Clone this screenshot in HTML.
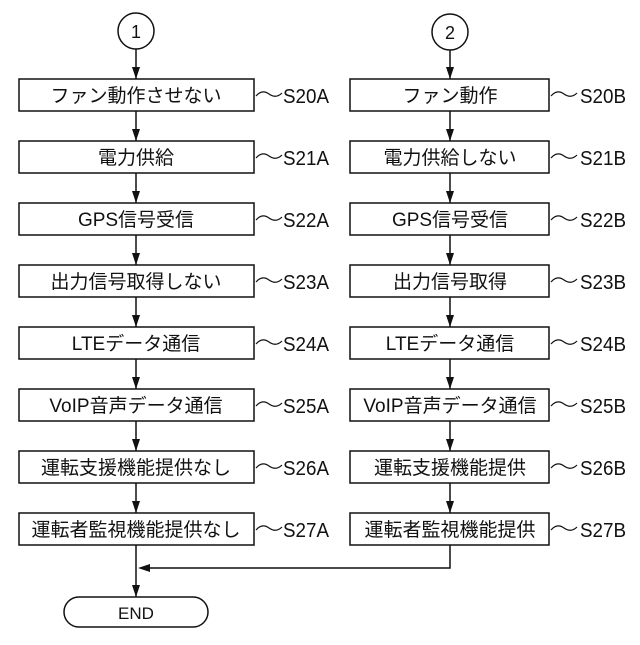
<!DOCTYPE html>
<html><head><meta charset="utf-8"><style>
html,body{margin:0;padding:0;background:#fff}
svg text{font-family:"Liberation Sans","Noto Sans CJK JP",sans-serif;fill:#111}
</style></head><body>
<svg width="640" height="640" viewBox="0 0 640 640" xmlns="http://www.w3.org/2000/svg">
<g stroke="#111" stroke-width="1.5" fill="none">
<circle cx="136" cy="31" r="18"/><circle cx="450" cy="32" r="18"/>
<line x1="136" y1="49" x2="136" y2="79"/><line x1="450" y1="50" x2="450" y2="79"/>
<line x1="136" y1="111" x2="136" y2="141"/><line x1="450" y1="111" x2="450" y2="141"/>
<line x1="136" y1="173" x2="136" y2="203"/><line x1="450" y1="173" x2="450" y2="203"/>
<line x1="136" y1="235" x2="136" y2="265"/><line x1="450" y1="235" x2="450" y2="265"/>
<line x1="136" y1="297" x2="136" y2="327"/><line x1="450" y1="297" x2="450" y2="327"/>
<line x1="136" y1="359" x2="136" y2="389"/><line x1="450" y1="359" x2="450" y2="389"/>
<line x1="136" y1="421" x2="136" y2="451"/><line x1="450" y1="421" x2="450" y2="451"/>
<line x1="136" y1="483" x2="136" y2="513"/><line x1="450" y1="483" x2="450" y2="513"/>
<line x1="136" y1="545" x2="136" y2="597"/>
<polyline points="450,545 450,568 146,568"/>
<rect x="64" y="597" width="144" height="30" rx="15"/>
<rect x="19" y="79" width="235" height="32"/><rect x="350" y="79" width="199" height="32"/>
<rect x="19" y="141" width="235" height="32"/><rect x="350" y="141" width="199" height="32"/>
<rect x="19" y="203" width="235" height="32"/><rect x="350" y="203" width="199" height="32"/>
<rect x="19" y="265" width="235" height="32"/><rect x="350" y="265" width="199" height="32"/>
<rect x="19" y="327" width="235" height="32"/><rect x="350" y="327" width="199" height="32"/>
<rect x="19" y="389" width="235" height="32"/><rect x="350" y="389" width="199" height="32"/>
<rect x="19" y="451" width="235" height="32"/><rect x="350" y="451" width="199" height="32"/>
<rect x="19" y="513" width="235" height="32"/><rect x="350" y="513" width="199" height="32"/>
<g stroke-width="1.2">
<path d="M256,96 q6,-7 13,-2 t13,-1"/><path d="M551,96 q6,-7 13,-2 t13,-1"/>
<path d="M256,158 q6,-7 13,-2 t13,-1"/><path d="M551,158 q6,-7 13,-2 t13,-1"/>
<path d="M256,220 q6,-7 13,-2 t13,-1"/><path d="M551,220 q6,-7 13,-2 t13,-1"/>
<path d="M256,282 q6,-7 13,-2 t13,-1"/><path d="M551,282 q6,-7 13,-2 t13,-1"/>
<path d="M256,344 q6,-7 13,-2 t13,-1"/><path d="M551,344 q6,-7 13,-2 t13,-1"/>
<path d="M256,406 q6,-7 13,-2 t13,-1"/><path d="M551,406 q6,-7 13,-2 t13,-1"/>
<path d="M256,468 q6,-7 13,-2 t13,-1"/><path d="M551,468 q6,-7 13,-2 t13,-1"/>
<path d="M256,530 q6,-7 13,-2 t13,-1"/><path d="M551,530 q6,-7 13,-2 t13,-1"/>
</g>
</g>
<g fill="#111">
<path d="M132,67 L140,67 L136,79 z"/><path d="M446,67 L454,67 L450,79 z"/>
<path d="M132,129 L140,129 L136,141 z"/><path d="M446,129 L454,129 L450,141 z"/>
<path d="M132,191 L140,191 L136,203 z"/><path d="M446,191 L454,191 L450,203 z"/>
<path d="M132,253 L140,253 L136,265 z"/><path d="M446,253 L454,253 L450,265 z"/>
<path d="M132,315 L140,315 L136,327 z"/><path d="M446,315 L454,315 L450,327 z"/>
<path d="M132,377 L140,377 L136,389 z"/><path d="M446,377 L454,377 L450,389 z"/>
<path d="M132,439 L140,439 L136,451 z"/><path d="M446,439 L454,439 L450,451 z"/>
<path d="M132,501 L140,501 L136,513 z"/><path d="M446,501 L454,501 L450,513 z"/>
<path d="M132,585 L140,585 L136,597 z"/>
<path d="M138,568 L150,564 L150,572 z"/>
</g>
<g font-size="19" text-anchor="middle">
<text x="136" y="38" font-size="18">1</text><text x="450" y="39" font-size="18">2</text>
<text x="136" y="102">ファン動作させない</text><text x="450" y="102">ファン動作</text>
<text x="136" y="164">電力供給</text><text x="450" y="164">電力供給しない</text>
<text x="136" y="226">GPS信号受信</text><text x="450" y="226">GPS信号受信</text>
<text x="136" y="288">出力信号取得しない</text><text x="450" y="288">出力信号取得</text>
<text x="136" y="350">LTEデータ通信</text><text x="450" y="350">LTEデータ通信</text>
<text x="136" y="412">VoIP音声データ通信</text><text x="450" y="412">VoIP音声データ通信</text>
<text x="136" y="474">運転支援機能提供なし</text><text x="450" y="474">運転支援機能提供</text>
<text x="136" y="536">運転者監視機能提供なし</text><text x="450" y="536">運転者監視機能提供</text>
<text x="136" y="619" font-size="17">END</text>
</g>
<g font-size="20">
<text x="283" y="103" textLength="46" lengthAdjust="spacingAndGlyphs">S20A</text><text x="580" y="103" textLength="46" lengthAdjust="spacingAndGlyphs">S20B</text>
<text x="283" y="165" textLength="46" lengthAdjust="spacingAndGlyphs">S21A</text><text x="580" y="165" textLength="46" lengthAdjust="spacingAndGlyphs">S21B</text>
<text x="283" y="227" textLength="46" lengthAdjust="spacingAndGlyphs">S22A</text><text x="580" y="227" textLength="46" lengthAdjust="spacingAndGlyphs">S22B</text>
<text x="283" y="289" textLength="46" lengthAdjust="spacingAndGlyphs">S23A</text><text x="580" y="289" textLength="46" lengthAdjust="spacingAndGlyphs">S23B</text>
<text x="283" y="351" textLength="46" lengthAdjust="spacingAndGlyphs">S24A</text><text x="580" y="351" textLength="46" lengthAdjust="spacingAndGlyphs">S24B</text>
<text x="283" y="413" textLength="46" lengthAdjust="spacingAndGlyphs">S25A</text><text x="580" y="413" textLength="46" lengthAdjust="spacingAndGlyphs">S25B</text>
<text x="283" y="475" textLength="46" lengthAdjust="spacingAndGlyphs">S26A</text><text x="580" y="475" textLength="46" lengthAdjust="spacingAndGlyphs">S26B</text>
<text x="283" y="537" textLength="46" lengthAdjust="spacingAndGlyphs">S27A</text><text x="580" y="537" textLength="46" lengthAdjust="spacingAndGlyphs">S27B</text>
</g>
</svg>
</body></html>
